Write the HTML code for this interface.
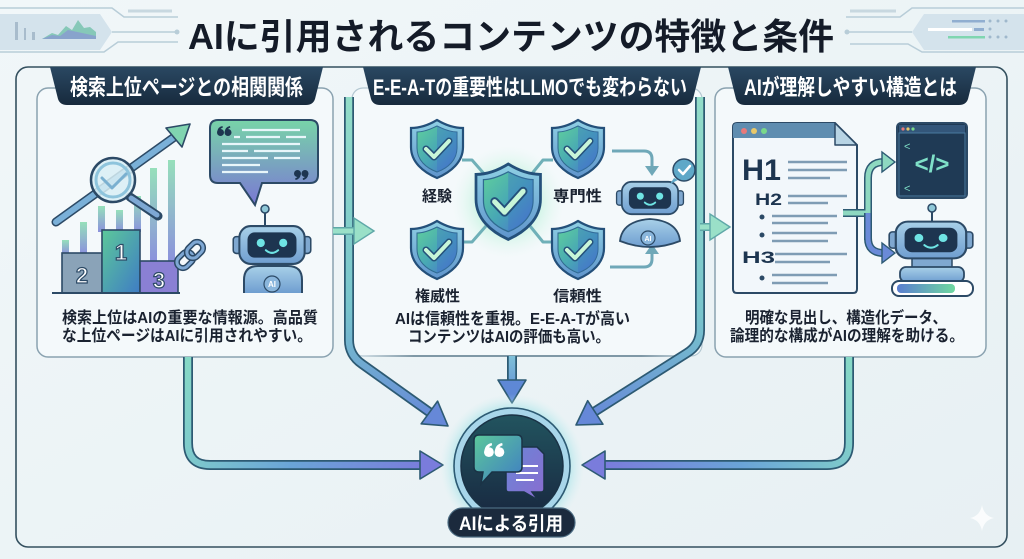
<!DOCTYPE html>
<html><head><meta charset="utf-8"><style>
html,body{margin:0;padding:0;background:#eef5f7;}
svg{display:block;}
text{font-family:"Liberation Sans","Noto Sans CJK JP",sans-serif;}
</style></head><body>
<svg width="1024" height="559" viewBox="0 0 1024 559" xmlns="http://www.w3.org/2000/svg">
<defs>
<linearGradient id="bg" x1="0" y1="0" x2="1" y2="1"><stop offset="0" stop-color="#f1f7f9"/><stop offset="1" stop-color="#e7f0f3"/></linearGradient>
<linearGradient id="tab" x1="0" y1="0" x2="0" y2="1"><stop offset="0" stop-color="#2a4862"/><stop offset="1" stop-color="#172a3d"/></linearGradient>
<linearGradient id="gA" gradientUnits="userSpaceOnUse" x1="188" y1="360" x2="440" y2="465"><stop offset="0" stop-color="#86d8c6"/><stop offset="0.5" stop-color="#6aa4d8"/><stop offset="1" stop-color="#7c78dc"/></linearGradient>
<linearGradient id="gB" gradientUnits="userSpaceOnUse" x1="350" y1="100" x2="440" y2="420"><stop offset="0" stop-color="#92dcc8"/><stop offset="0.6" stop-color="#78c4cc"/><stop offset="1" stop-color="#6688d8"/></linearGradient>
<linearGradient id="gD" gradientUnits="userSpaceOnUse" x1="700" y1="100" x2="590" y2="420"><stop offset="0" stop-color="#92dcc8"/><stop offset="0.6" stop-color="#78c4cc"/><stop offset="1" stop-color="#6688d8"/></linearGradient>
<linearGradient id="gE" gradientUnits="userSpaceOnUse" x1="849" y1="360" x2="590" y2="465"><stop offset="0" stop-color="#86d8c6"/><stop offset="0.5" stop-color="#6aa4d8"/><stop offset="1" stop-color="#7c78dc"/></linearGradient>
<linearGradient id="gC" gradientUnits="userSpaceOnUse" x1="0" y1="356" x2="0" y2="400"><stop offset="0" stop-color="#7fc0d8"/><stop offset="1" stop-color="#5e8ad6"/></linearGradient>
<linearGradient id="shieldIn" x1="0" y1="0" x2="1" y2="1"><stop offset="0" stop-color="#5fcf9c"/><stop offset="0.5" stop-color="#48a8b4"/><stop offset="1" stop-color="#4a6fd0"/></linearGradient>
<linearGradient id="shieldRim" x1="0" y1="0" x2="0" y2="1"><stop offset="0" stop-color="#8fd0e4"/><stop offset="1" stop-color="#5f94cc"/></linearGradient>
<radialGradient id="glow" cx="0.5" cy="0.5" r="0.5"><stop offset="0" stop-color="#9ff0c0" stop-opacity="0.95"/><stop offset="0.55" stop-color="#b8f2d8" stop-opacity="0.6"/><stop offset="1" stop-color="#e0f6ee" stop-opacity="0"/></radialGradient>
<radialGradient id="cglow" cx="0.5" cy="0.5" r="0.5"><stop offset="0.7" stop-color="#7fd8e0" stop-opacity="0.8"/><stop offset="1" stop-color="#c8eef0" stop-opacity="0"/></radialGradient>
<linearGradient id="cfill" x1="0" y1="0" x2="0" y2="1"><stop offset="0" stop-color="#22545f"/><stop offset="1" stop-color="#182840"/></linearGradient>
<linearGradient id="bub" x1="0" y1="0" x2="0" y2="1"><stop offset="0" stop-color="#78d4a8"/><stop offset="1" stop-color="#7a78d4"/></linearGradient>
<linearGradient id="robotG" x1="0" y1="0" x2="0" y2="1"><stop offset="0" stop-color="#a8d0e8"/><stop offset="1" stop-color="#6f9ed0"/></linearGradient>
<linearGradient id="bar" x1="0" y1="1" x2="0" y2="0"><stop offset="0" stop-color="#7a80d8"/><stop offset="1" stop-color="#86dcb0"/></linearGradient>
<linearGradient id="ib1" x1="0" y1="0" x2="1" y2="1"><stop offset="0" stop-color="#5cc89a"/><stop offset="1" stop-color="#3f7cc4"/></linearGradient>
<linearGradient id="ib2" x1="0" y1="0" x2="1" y2="1"><stop offset="0" stop-color="#6a86d6"/><stop offset="1" stop-color="#8a6cd0"/></linearGradient>
<linearGradient id="fadeL" x1="0" y1="0" x2="1" y2="0"><stop offset="0" stop-color="#7f98a6" stop-opacity="0"/><stop offset="0.15" stop-color="#7f98a6"/><stop offset="0.85" stop-color="#7f98a6"/><stop offset="1" stop-color="#7f98a6" stop-opacity="0"/></linearGradient>
<linearGradient id="gbar" x1="0" y1="0" x2="1" y2="0"><stop offset="0" stop-color="#5a7ed0"/><stop offset="1" stop-color="#6fd8a0"/></linearGradient>
<g id="shield">
<path d="M26 0 C36 6 44 8 52 8 L52 27 C52 42 40 52 26 58 C12 52 0 42 0 27 L0 8 C8 8 16 6 26 0 Z" fill="url(#shieldRim)" stroke="#24507a" stroke-width="2.2"/>
<path d="M26 6 C34 10 40 12 46 12 L46 28 C46 40 37 48 26 52 C15 48 6 40 6 28 L6 12 C12 12 18 10 26 6 Z" fill="url(#shieldIn)" stroke="#2f6a90" stroke-width="1"/>
<path d="M26 6 L26 52 C37 48 46 40 46 28 L46 12 C40 12 34 10 26 6 Z" fill="#3f6fc8" opacity="0.35"/>
<path d="M15 29 L23 37 L38 21" fill="none" stroke="#24507a" stroke-width="7" stroke-linecap="round" stroke-linejoin="round"/>
<path d="M15 29 L23 37 L38 21" fill="none" stroke="#c8f6d8" stroke-width="4" stroke-linecap="round" stroke-linejoin="round"/>
</g>
<g id="rhead">
<rect x="-38" y="-8" width="8" height="16" rx="3" fill="#7fa8d0" stroke="#2c4a66" stroke-width="1.5"/>
<rect x="30" y="-8" width="8" height="16" rx="3" fill="#7fa8d0" stroke="#2c4a66" stroke-width="1.5"/>
<rect x="-32" y="-18" width="64" height="36" rx="11" fill="url(#robotG)" stroke="#2c4a66" stroke-width="2"/>
<rect x="-24" y="-12" width="48" height="24" rx="7" fill="#1d3550"/>
<circle cx="-11" cy="-2" r="4" fill="#6fe4e4"/>
<circle cx="11" cy="-2" r="4" fill="#6fe4e4"/>
<path d="M-6 5 Q0 10 6 5" fill="none" stroke="#6fe4e4" stroke-width="2" stroke-linecap="round"/>
</g>
<!-- opening quote shape (66), unit ~ 14x10 -->
<g id="q66">
<circle cx="3.5" cy="6.5" r="3.5"/><path d="M0.3 6 Q0.5 1 5.5 0 L5.8 1.6 Q2.8 2.6 3 5 Z"/>
<circle cx="11" cy="6.5" r="3.5"/><path d="M7.8 6 Q8 1 13 0 L13.3 1.6 Q10.3 2.6 10.5 5 Z"/>
</g>
<g id="q99">
<circle cx="3.5" cy="3.5" r="3.5"/><path d="M6.7 4 Q6.5 9 1.5 10 L1.2 8.4 Q4.2 7.4 4 5 Z"/>
<circle cx="11" cy="3.5" r="3.5"/><path d="M14.2 4 Q14 9 9 10 L8.7 8.4 Q11.7 7.4 11.5 5 Z"/>
</g>
</defs>

<rect width="1024" height="559" fill="url(#bg)"/>

<!-- top decorations -->
<g fill="none" stroke="#b8cdd8" stroke-width="1.5">
<path d="M0 8 H112 L124 17 H178"/>
<path d="M112 32 H176"/>
<path d="M0 52 H104 L118 42 H178"/>
<path d="M1024 8 H912 L900 17 H846"/>
<path d="M912 32 H848"/>
<path d="M1024 52 H922 L908 44 H850"/>
</g>
<path d="M128 11 H172" stroke="#c8d8e0" stroke-width="3"/>
<path d="M850 11 H896" stroke="#c8d8e0" stroke-width="3"/>
<circle cx="177" cy="32" r="2.5" fill="#b8cdd8"/>
<circle cx="847" cy="32" r="2.5" fill="#b8cdd8"/>
<path d="M0 14 H100 L112 32 L100 50 H0 Z" fill="#d4e3ec"/>
<rect x="15" y="22" width="3" height="18" fill="#a8bccc"/><rect x="24" y="28" width="2" height="12" fill="#a8bccc"/><rect x="32" y="32" width="3" height="8" fill="#a8bccc"/>
<path d="M42 39 L52 33 L58 35 L66 26 L72 30 L78 20 L84 28 L90 27 L96 32 V39 Z" fill="#86c8b8"/>
<path d="M42 39 L52 35 L60 36 L68 30 L96 36 V39 Z" fill="#8a8ad8" opacity="0.6"/>
<path d="M1024 14 H924 L912 32 L924 50 H1024 Z" fill="#d4e3ec"/>
<rect x="952" y="20" width="33" height="2.5" fill="#90aed0"/>
<rect x="928" y="28" width="44" height="3" fill="#ffffff"/><rect x="974" y="28" width="10" height="3" fill="#90aed0"/>
<rect x="948" y="36" width="37" height="2.5" fill="#7fd6b0"/>
<g fill="#9fb8cc"><circle cx="990" cy="21" r="1.5"/><circle cx="998" cy="21" r="1.5"/><circle cx="1006" cy="21" r="1.5"/><circle cx="990" cy="29" r="1.5"/><circle cx="990" cy="37" r="1.5"/><circle cx="998" cy="37" r="1.5"/><circle cx="1006" cy="37" r="1.5"/></g>

<!-- title -->
<text x="188" y="49" font-size="36" font-weight="bold" fill="#141b28" textLength="646" lengthAdjust="spacingAndGlyphs">AIに引用されるコンテンツの特徴と条件</text>

<!-- outer frame -->
<rect x="16" y="67" width="991" height="480" rx="12" fill="none" stroke="#34505f" stroke-width="1.6"/>

<!-- panels -->
<rect x="37" y="88" width="296" height="269" rx="11" fill="#f4f9fb" stroke="#8aa2b0" stroke-width="1.5"/>
<rect x="352" y="88" width="350" height="268" rx="11" fill="#f4f9fb" stroke="#b4c8d2" stroke-width="1.2"/>
<rect x="715" y="88" width="271" height="269" rx="11" fill="#f4f9fb" stroke="#8aa2b0" stroke-width="1.5"/>
<rect x="365" y="355" width="325" height="2" fill="url(#fadeL)"/>

<!-- tabs -->
<path d="M50 67 L323 67 L315 99 Q313 105 306 105 L67 105 Q60 105 58 99 Z" fill="url(#tab)"/>
<path d="M363 67 L701 67 L693 99 Q691 105 684 105 L380 105 Q373 105 371 99 Z" fill="url(#tab)"/>
<path d="M728 67 L976 67 L968 99 Q966 105 959 105 L745 105 Q738 105 736 99 Z" fill="url(#tab)"/>
<text x="70" y="95" font-size="22" font-weight="bold" fill="#ffffff" textLength="233" lengthAdjust="spacingAndGlyphs">検索上位ページとの相関関係</text>
<text x="373" y="95" font-size="22" font-weight="bold" fill="#ffffff" textLength="314" lengthAdjust="spacingAndGlyphs">E-E-A-Tの重要性はLLMOでも変わらない</text>
<text x="744" y="95" font-size="22" font-weight="bold" fill="#ffffff" textLength="213" lengthAdjust="spacingAndGlyphs">AIが理解しやすい構造とは</text>

<!-- connectors (pipes) -->
<g fill="none" stroke-linecap="butt" stroke-linejoin="round">
<path d="M188 357 V443 Q188 465 210 465 H424" stroke="#2d5a73" stroke-width="10"/>
<path d="M188 357 V443 Q188 465 210 465 H424" stroke="url(#gA)" stroke-width="6.5"/>
<path d="M849 357 V443 Q849 465 827 465 H600" stroke="#2d5a73" stroke-width="10"/>
<path d="M849 357 V443 Q849 465 827 465 H600" stroke="url(#gE)" stroke-width="6.5"/>
<path d="M349 97 V340 Q349 355 362 364 L432 414" stroke="#2d5a73" stroke-width="10"/>
<path d="M349 97 V340 Q349 355 362 364 L432 414" stroke="url(#gB)" stroke-width="6.5"/>
<path d="M700 97 V330 Q700 345 687 353 L594 412" stroke="#2d5a73" stroke-width="10"/>
<path d="M700 97 V330 Q700 345 687 353 L594 412" stroke="url(#gD)" stroke-width="6.5"/>
<path d="M512 356 V384" stroke="#2d5a73" stroke-width="10"/>
<path d="M512 356 V384" stroke="url(#gC)" stroke-width="6.5"/>
</g>
<!-- arrowheads -->
<g stroke="#2d5a73" stroke-width="1.6" stroke-linejoin="round">
<polygon points="443,465 420,451 420,479" fill="#7a7cdc"/>
<polygon points="582,465 605,451 605,479" fill="#7a7cdc"/>
<polygon points="512,403 498,380 526,380" fill="#5e88d6"/>
<polygon points="0,0 -23,-14 -23,14" fill="#6688d8" transform="translate(448,426) rotate(36)"/>
<polygon points="0,0 -23,-14 -23,14" fill="#6688d8" transform="translate(576,425) rotate(147)"/>
</g>
<!-- green entry arrows -->
<g>
<path d="M333 231 H356" stroke="#5fa8a8" stroke-width="8"/>
<path d="M333 231 H356" stroke="#9ae0c8" stroke-width="5"/>
<polygon points="374,231 354,218 354,244" fill="#9ae0c8" stroke="#5fa8a8" stroke-width="1.4"/>
<path d="M700 227 H712" stroke="#5fa8a8" stroke-width="8"/>
<path d="M700 227 H712" stroke="#9ae0c8" stroke-width="5"/>
<polygon points="730,227 710,214 710,240" fill="#9ae0c8" stroke="#5fa8a8" stroke-width="1.4"/>
</g>

<!-- ===== Panel 1 illustrations ===== -->
<g fill="url(#bar)" opacity="0.85">
<rect x="62" y="240" width="7" height="14"/>
<rect x="80" y="222" width="7" height="32"/>
<rect x="98" y="206" width="7" height="26"/>
<rect x="116" y="210" width="7" height="22"/>
<rect x="134" y="196" width="7" height="36"/>
<rect x="150" y="168" width="7" height="94"/>
<rect x="168" y="160" width="7" height="102"/>
</g>
<!-- trend arrow -->
<path d="M56 222 L180 133" stroke="#2c4a66" stroke-width="9" stroke-linecap="round"/>
<path d="M56 222 L180 133" stroke="#7ab0d8" stroke-width="6" stroke-linecap="round"/>
<polygon points="190,124 166,128 182,147" fill="#80d4b0" stroke="#2c4a66" stroke-width="1.6" stroke-linejoin="round"/>
<!-- magnifier -->
<path d="M130 197 L158 216" stroke="#2c4a66" stroke-width="9" stroke-linecap="round"/>
<path d="M131 198 L157 215" stroke="#7ea8d4" stroke-width="5" stroke-linecap="round"/>
<circle cx="113" cy="180" r="22" fill="#d8eef4" fill-opacity="0.85" stroke="#2c4a66" stroke-width="2.5"/>
<circle cx="113" cy="180" r="17" fill="none" stroke="#8ec4dc" stroke-width="3"/>
<path d="M102 178 L112 188 L126 174" fill="none" stroke="#7ab0d0" stroke-width="3" stroke-linecap="round" stroke-linejoin="round"/>
<!-- podium -->
<rect x="62" y="253" width="40" height="40" fill="#8aa3b8" stroke="#2c4a66" stroke-width="1.6"/>
<rect x="102" y="230" width="38" height="63" fill="url(#ib1)" stroke="#2c4a66" stroke-width="1.6"/>
<rect x="140" y="261" width="38" height="32" fill="#8a80d4" stroke="#2c4a66" stroke-width="1.6"/>
<path d="M52 293 H180" stroke="#2c4a66" stroke-width="2"/>
<g font-size="22" font-weight="bold" fill="#ffffff" stroke="#2c4a66" stroke-width="1.2" text-anchor="middle">
<text x="82" y="283">2</text><text x="121" y="260">1</text><text x="159" y="288">3</text>
</g>
<!-- speech bubble -->
<path d="M218 120 H310 Q318 120 318 128 V175 Q318 183 310 183 H262 L255 205 L240 183 H218 Q210 183 210 175 V128 Q210 120 218 120 Z" fill="url(#bub)" stroke="#2c4a66" stroke-width="2"/>
<use href="#q66" transform="translate(217,126)" fill="#1d3550"/>
<use href="#q99" transform="translate(294,170)" fill="#1d3550"/>
<g stroke="#e8f6fa" stroke-width="2.2">
<path d="M242 130 H300"/><path d="M234 137 H240 M246 137 H280 M286 137 H306"/><path d="M222 144 H300"/><path d="M222 151 H248 M254 151 H300"/><path d="M222 158 H268 M274 158 H300"/><path d="M222 165 H260"/><path d="M222 172 H268"/>
</g>
<!-- chain -->
<g transform="translate(190,255) rotate(-45)" fill="none">
<rect x="-16" y="-6" width="18" height="12" rx="6" stroke="#2c4a66" stroke-width="6"/>
<rect x="-16" y="-6" width="18" height="12" rx="6" stroke="#7ea8d4" stroke-width="3"/>
<rect x="-2" y="-6" width="18" height="12" rx="6" stroke="#2c4a66" stroke-width="6"/>
<rect x="-2" y="-6" width="18" height="12" rx="6" stroke="#7ea8d4" stroke-width="3"/>
</g>
<!-- robot 1 -->
<path d="M265 226 V212" stroke="#2c4a66" stroke-width="2"/>
<circle cx="265" cy="209" r="4" fill="#8fc8d8" stroke="#2c4a66" stroke-width="1.5"/>
<path d="M244 293 V280 Q244 266 258 266 H288 Q302 266 302 280 V293" fill="url(#robotG)" stroke="#2c4a66" stroke-width="2"/>
<circle cx="272" cy="284" r="8" fill="#8ab6dc" stroke="#2c4a66" stroke-width="1.2"/>
<text x="272" y="287" font-size="8" font-weight="bold" fill="#ffffff" text-anchor="middle">AI</text>
<use href="#rhead" transform="translate(272,245) scale(1.02,1.05)"/>

<text x="62" y="323" font-size="16" font-weight="bold" fill="#1a2230" textLength="256" lengthAdjust="spacingAndGlyphs">検索上位はAIの重要な情報源。高品質</text>
<text x="62" y="341" font-size="16" font-weight="bold" fill="#1a2230" textLength="250" lengthAdjust="spacingAndGlyphs">な上位ページはAIに引用されやすい。</text>

<!-- ===== Panel 2 ===== -->
<circle cx="508" cy="202" r="56" fill="url(#glow)"/>
<g stroke="#6fb0b8" stroke-width="3" fill="none" stroke-linejoin="round">
<path d="M462 160 H472 L486 176"/>
<path d="M553 160 H543 L530 176"/>
<path d="M462 242 H472 L486 226"/>
<path d="M553 242 H543 L530 226"/>
</g>
<use href="#shield" transform="translate(411,120)"/>
<use href="#shield" transform="translate(552,120)"/>
<use href="#shield" transform="translate(411,221)"/>
<use href="#shield" transform="translate(552,221)"/>
<use href="#shield" transform="translate(476,164) scale(1.24,1.3)"/>
<g font-size="15" font-weight="bold" fill="#1a2230">
<text x="422" y="201" textLength="30" lengthAdjust="spacingAndGlyphs">経験</text>
<text x="553" y="201" textLength="49" lengthAdjust="spacingAndGlyphs">専門性</text>
<text x="415" y="301" textLength="45" lengthAdjust="spacingAndGlyphs">権威性</text>
<text x="553" y="301" textLength="49" lengthAdjust="spacingAndGlyphs">信頼性</text>
</g>
<!-- small arrows to robot -->
<g fill="none" stroke="#6fa8b8" stroke-width="3">
<path d="M612 151 H644 Q652 151 652 159 V168"/>
<path d="M610 267 H644 Q652 267 652 259 V252"/>
</g>
<polygon points="652,176 645,166 659,166" fill="#6fa8b8"/>
<polygon points="652,244 645,254 659,254" fill="#6fa8b8"/>
<!-- robot 2 -->
<path d="M620 241 Q622 221 650 219 Q678 221 680 241 Q665 247 650 247 Q635 247 620 241 Z" fill="url(#robotG)" stroke="#2c4a66" stroke-width="1.8"/>
<circle cx="648" cy="238" r="7" fill="#8ab6dc" stroke="#2c4a66" stroke-width="1.2"/>
<text x="648" y="241" font-size="7" font-weight="bold" fill="#ffffff" text-anchor="middle">AI</text>
<use href="#rhead" transform="translate(650,198) scale(0.88,0.9)"/>
<circle cx="684" cy="170" r="11" fill="#5fa8c8" stroke="#2c4a66" stroke-width="1.5"/>
<path d="M674 178 L670 184 L678 180 Z" fill="#5fa8c8"/>
<path d="M679 170 L683 174 L690 166" fill="none" stroke="#ffffff" stroke-width="2.5" stroke-linecap="round" stroke-linejoin="round"/>

<text x="395" y="324" font-size="16" font-weight="bold" fill="#1a2230" textLength="235" lengthAdjust="spacingAndGlyphs">AIは信頼性を重視。E-E-A-Tが高い</text>
<text x="408" y="342" font-size="16" font-weight="bold" fill="#1a2230" textLength="202" lengthAdjust="spacingAndGlyphs">コンテンツはAIの評価も高い。</text>

<!-- ===== Panel 3 ===== -->
<path d="M737 123 H835 L857 145 V289 Q857 293 853 293 H737 Q733 293 733 289 V127 Q733 123 737 123 Z" fill="#f2f7fb" stroke="#2c4a66" stroke-width="2"/>
<path d="M737 123 H835 V138 H733 V127 Q733 123 737 123 Z" fill="#5f8db0"/>
<path d="M835 123 V145 H857 Z" fill="#b8d4e4" stroke="#2c4a66" stroke-width="1.5" stroke-linejoin="round"/>
<circle cx="744" cy="131" r="3" fill="#e87a7a"/><circle cx="754" cy="131" r="3" fill="#e8c86a"/><circle cx="764" cy="131" r="3" fill="#7ad88a"/>
<text x="742" y="180" font-size="30" font-weight="bold" fill="#1d3550" textLength="39" lengthAdjust="spacingAndGlyphs">H1</text>
<text x="755" y="205" font-size="17" font-weight="bold" fill="#1d3550" textLength="27" lengthAdjust="spacingAndGlyphs">H2</text>
<text x="742" y="263" font-size="17" font-weight="bold" fill="#1d3550" textLength="33" lengthAdjust="spacingAndGlyphs">H3</text>
<g stroke="#7f9cb4" stroke-width="2.5">
<path d="M788 162 H847"/><path d="M788 170 H847"/><path d="M788 178 H830"/>
<path d="M788 196 H847"/><path d="M788 203 H828"/>
<path d="M772 216 H837"/><path d="M772 223 H828"/>
<path d="M772 233 H837"/><path d="M772 241 H828"/>
<path d="M775 254 H847"/><path d="M775 262 H830"/>
<path d="M772 275 H837"/><path d="M772 283 H828"/>
</g>
<g fill="#2c4a66"><circle cx="762" cy="217" r="2.5"/><circle cx="762" cy="235" r="2.5"/><circle cx="762" cy="278" r="2.5"/></g>
<g fill="none" stroke-linejoin="round">
<path d="M843 213 H868 M868 240 V178 Q868 162 884 162 H886" stroke="#2d5a73" stroke-width="8"/>
<path d="M843 213 H868 M868 240 V178 Q868 162 884 162 H886" stroke="#8ed8c0" stroke-width="5"/>
<path d="M868 213 V238 Q868 253 884 253 H886" stroke="#2d5a73" stroke-width="8"/>
<path d="M868 213 V238 Q868 253 884 253 H886" stroke="#6a8ad8" stroke-width="5"/>
</g>
<polygon points="895,162 882,152 882,172" fill="#8ed8c0" stroke="#2d5a73" stroke-width="1.4"/>
<polygon points="895,253 882,243 882,263" fill="#6a8ad8" stroke="#2d5a73" stroke-width="1.4"/>
<rect x="897" y="123" width="70" height="75" rx="4" fill="#1f3a55" stroke="#2c4a66" stroke-width="2"/>
<rect x="899" y="125" width="66" height="8" fill="#33567a"/>
<circle cx="903" cy="129" r="1.6" fill="#e87a7a"/><circle cx="908" cy="129" r="1.6" fill="#e8c86a"/><circle cx="913" cy="129" r="1.6" fill="#7ad88a"/>
<rect x="899" y="133" width="66" height="63" fill="none" stroke="#4a7aa0" stroke-width="1"/>
<text x="932" y="172" font-size="24" font-weight="bold" fill="#7fe0c8" text-anchor="middle">&lt;/&gt;</text>
<text x="904" y="150" font-size="11" fill="#7fe0c8">&lt;</text>
<text x="904" y="192" font-size="11" fill="#7fe0c8">&lt;</text>
<path d="M932 222 V211" stroke="#2c4a66" stroke-width="2"/>
<circle cx="932" cy="208" r="4" fill="#8fc8d8" stroke="#2c4a66" stroke-width="1.5"/>
<rect x="912" y="256" width="40" height="14" fill="#7fa8d0" stroke="#2c4a66" stroke-width="1.5"/>
<rect x="900" y="267" width="64" height="15" rx="6" fill="url(#robotG)" stroke="#2c4a66" stroke-width="1.8"/>
<rect x="892" y="281" width="81" height="15" rx="7" fill="#ffffff" stroke="#2c4a66" stroke-width="2"/>
<rect x="897" y="284" width="58" height="9" rx="4" fill="url(#gbar)"/>
<use href="#rhead" transform="translate(931,240) scale(1.1,1.02)"/>

<text x="745" y="323" font-size="16" font-weight="bold" fill="#1a2230" textLength="202" lengthAdjust="spacingAndGlyphs">明確な見出し、構造化データ、</text>
<text x="730" y="341" font-size="16" font-weight="bold" fill="#1a2230" textLength="234" lengthAdjust="spacingAndGlyphs">論理的な構成がAIの理解を助ける。</text>

<!-- ===== Center circle ===== -->
<circle cx="512" cy="466" r="72" fill="url(#cglow)"/>
<circle cx="512" cy="466" r="58" fill="#a8d6ea" stroke="#2d5a73" stroke-width="1.6"/>
<circle cx="512" cy="466" r="51" fill="url(#cfill)" stroke="#1a3346" stroke-width="1.5"/>
<path d="M509 447 H537 L544 454 V489 Q544 492 541 492 H532 L538 500 L524 492 H509 Q506 492 506 489 V450 Q506 447 509 447 Z" fill="url(#ib2)" stroke="#1a3346" stroke-width="1.5"/>
<g stroke="#ffffff" stroke-width="2"><path d="M520 466 H538"/><path d="M516 473 H538"/><path d="M516 480 H534"/></g>
<path d="M479 435 H517 Q522 435 522 440 V467 Q522 472 517 472 H492 L481 484 L483 472 H479 Q474 472 474 467 V440 Q474 435 479 435 Z" fill="url(#ib1)" stroke="#1a3346" stroke-width="1.5"/>
<use href="#q66" transform="translate(484,443) scale(1.4)" fill="#ffffff"/>
<rect x="448" y="508" width="127" height="29" rx="14.5" fill="#1b2a3d" stroke="#4a6a80" stroke-width="1.2"/>
<text x="511" y="530" font-size="19" font-weight="bold" fill="#ffffff" text-anchor="middle" textLength="104" lengthAdjust="spacingAndGlyphs">AIによる引用</text>

<path d="M982 505 Q984 516 994 518 Q984 520 982 531 Q980 520 970 518 Q980 516 982 505 Z" fill="#ffffff" opacity="0.8"/>
</svg>
</body></html>
